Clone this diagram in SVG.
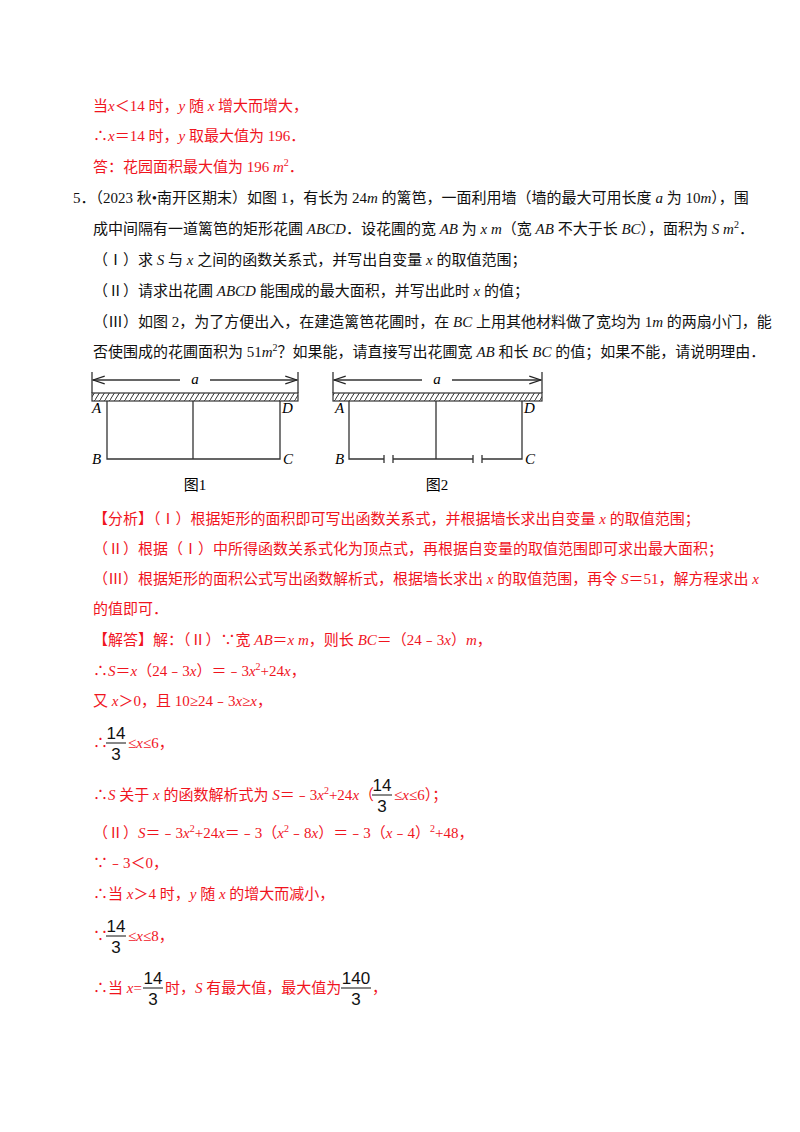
<svg xmlns="http://www.w3.org/2000/svg" width="800" height="1132" viewBox="0 0 800 1132">
<defs>
<pattern id="hatch" width="5" height="8" patternUnits="userSpaceOnUse"><line x1="0" y1="8" x2="5" y2="0" stroke="#333" stroke-width="1"/></pattern>
<marker id="arr" markerWidth="10" markerHeight="8" refX="9" refY="4" orient="auto-start-reverse"><path d="M0,1 L9,4 L0,7" fill="none" stroke="#222" stroke-width="1"/></marker>
</defs>
<style>
text{font-family:"Liberation Serif","Noto Sans CJK SC",serif;font-size:15px}
.r{fill:#f0141e}.k{fill:#111}
.i{font-style:italic}
.ln{stroke:#333;stroke-width:1.3;fill:none}
.fb{stroke:#111;stroke-width:1}
.f text{font-family:"Liberation Sans","Noto Sans CJK SC",sans-serif;font-size:17px}
</style>
<rect width="800" height="1132" fill="#fff"/>
<g class="r">
<text x="93" y="111">当<tspan class="i">x</tspan>＜14 时，<tspan class="i">y</tspan> 随 <tspan class="i">x</tspan> 增大而增大，</text>
<text x="93" y="141">∴<tspan class="i">x</tspan>＝14 时，<tspan class="i">y</tspan> 取最大值为 196．</text>
<text x="93" y="172">答：花园面积最大值为 196 <tspan class="i">m</tspan><tspan dy="-6" font-size="10">2</tspan><tspan dy="6">．</tspan></text>
</g>
<g class="k">
<text x="73" y="203">5．（2023 秋•南开区期末）如图 1，有长为 24<tspan class="i">m</tspan> 的篱笆，一面利用墙（墙的最大可用长度 <tspan class="i">a</tspan> 为 10<tspan class="i">m</tspan>），围</text>
<text x="93" y="234">成中间隔有一道篱笆的矩形花圃 <tspan class="i">ABCD</tspan>．设花圃的宽 <tspan class="i">AB</tspan> 为 <tspan class="i">x m</tspan>（宽 <tspan class="i">AB</tspan> 不大于长 <tspan class="i">BC</tspan>），面积为 <tspan class="i">S m</tspan><tspan dy="-6" font-size="10">2</tspan><tspan dy="6">．</tspan></text>
<text x="93" y="265">（Ⅰ）求 <tspan class="i">S</tspan> 与 <tspan class="i">x</tspan> 之间的函数关系式，并写出自变量 <tspan class="i">x</tspan> 的取值范围；</text>
<text x="93" y="296">（Ⅱ）请求出花圃 <tspan class="i">ABCD</tspan> 能围成的最大面积，并写出此时 <tspan class="i">x</tspan> 的值；</text>
<text x="93" y="327">（Ⅲ）如图 2，为了方便出入，在建造篱笆花圃时，在 <tspan class="i">BC</tspan> 上用其他材料做了宽均为 1<tspan class="i">m</tspan> 的两扇小门，能</text>
<text x="93" y="357">否使围成的花圃面积为 51<tspan class="i">m</tspan><tspan dy="-6" font-size="10">2</tspan><tspan dy="6">？如果能，请直接写出花圃宽 </tspan><tspan class="i">AB</tspan> 和长 <tspan class="i">BC</tspan> 的值；如果不能，请说明理由．</text>
</g>
<g id="fig1">
<line class="ln" x1="92" y1="372" x2="92" y2="393"/><line class="ln" x1="298" y1="372" x2="298" y2="393"/>
<line class="ln" x1="93" y1="380" x2="180" y2="380" marker-start="url(#arr)"/><line class="ln" x1="210" y1="380" x2="297" y2="380" marker-end="url(#arr)"/>
<text x="195" y="384" text-anchor="middle" class="i">a</text>
<rect x="92" y="393" width="206" height="8" fill="url(#hatch)" stroke="#333" stroke-width="1.2"/>
<path class="ln" d="M107,401 V459 H280 V401 M193,401 V459"/>
<text x="92" y="413" class="i">A</text><text x="282" y="413" class="i">D</text>
<text x="92" y="464" class="i">B</text><text x="283" y="464" class="i">C</text>
<text x="195" y="490" text-anchor="middle">图1</text>
</g>
<g id="fig2">
<line class="ln" x1="333" y1="372" x2="333" y2="393"/><line class="ln" x1="542" y1="372" x2="542" y2="393"/>
<line class="ln" x1="334" y1="380" x2="422" y2="380" marker-start="url(#arr)"/><line class="ln" x1="452" y1="380" x2="541" y2="380" marker-end="url(#arr)"/>
<text x="437" y="384" text-anchor="middle" class="i">a</text>
<rect x="333" y="393" width="209" height="8" fill="url(#hatch)" stroke="#333" stroke-width="1.2"/>
<path class="ln" d="M349,401 V459 H384 M384,455 V463 M393,455 V463 M393,459 H473 M473,455 V463 M482,455 V463 M482,459 H522 V401 M436,401 V459"/>
<text x="335" y="413" class="i">A</text><text x="524" y="413" class="i">D</text>
<text x="335" y="464" class="i">B</text><text x="525" y="464" class="i">C</text>
<text x="437" y="490" text-anchor="middle">图2</text>
</g>
<g class="r">
<text x="93" y="524">【分析】（Ⅰ）根据矩形的面积即可写出函数关系式，并根据墙长求出自变量 <tspan class="i">x</tspan> 的取值范围；</text>
<text x="93" y="554">（Ⅱ）根据（Ⅰ）中所得函数关系式化为顶点式，再根据自变量的取值范围即可求出最大面积；</text>
<text x="93" y="584">（Ⅲ）根据矩形的面积公式写出函数解析式，根据墙长求出 <tspan class="i">x</tspan> 的取值范围，再令 <tspan class="i">S</tspan>＝51，解方程求出 <tspan class="i">x</tspan></text>
<text x="93" y="614">的值即可．</text>
<text x="93" y="645">【解答】解：（Ⅱ）∵宽 <tspan class="i">AB</tspan>＝<tspan class="i">x m</tspan>，则长 <tspan class="i">BC</tspan>＝（24﹣3<tspan class="i">x</tspan>）<tspan class="i">m</tspan>，</text>
<text x="93" y="676">∴<tspan class="i">S</tspan>＝<tspan class="i">x</tspan>（24﹣3<tspan class="i">x</tspan>）＝﹣3<tspan class="i">x</tspan><tspan dy="-6" font-size="10">2</tspan><tspan dy="6">+24</tspan><tspan class="i">x</tspan>，</text>
<text x="93" y="706">又 <tspan class="i">x</tspan>＞0，且 10≥24﹣3<tspan class="i">x</tspan>≥<tspan class="i">x</tspan>，</text>
<text x="93" y="748">∴</text><text x="128" y="748">≤<tspan class="i">x</tspan>≤6，</text>
<text x="93" y="800">∴<tspan class="i">S</tspan> 关于 <tspan class="i">x</tspan> 的函数解析式为 <tspan class="i">S</tspan>＝﹣3<tspan class="i">x</tspan><tspan dy="-6" font-size="10">2</tspan><tspan dy="6">+24</tspan><tspan class="i">x</tspan>（</text><text x="394" y="800">≤<tspan class="i">x</tspan>≤6）；</text>
<text x="93" y="838">（Ⅱ）<tspan class="i">S</tspan>＝﹣3<tspan class="i">x</tspan><tspan dy="-6" font-size="10">2</tspan><tspan dy="6">+24</tspan><tspan class="i">x</tspan>＝﹣3（<tspan class="i">x</tspan><tspan dy="-6" font-size="10">2</tspan><tspan dy="6">﹣8</tspan><tspan class="i">x</tspan>）＝﹣3（<tspan class="i">x</tspan>﹣4）<tspan dy="-6" font-size="10">2</tspan><tspan dy="6">+48，</tspan></text>
<text x="93" y="868">∵﹣3＜0，</text>
<text x="93" y="899">∴当 <tspan class="i">x</tspan>＞4 时，<tspan class="i">y</tspan> 随 <tspan class="i">x</tspan> 的增大而减小，</text>
<text x="93" y="941">∵</text><text x="128" y="941">≤<tspan class="i">x</tspan>≤8，</text>
<text x="93" y="993">∴当 <tspan class="i">x</tspan>=</text><text x="165" y="993">时，<tspan class="i">S</tspan> 有最大值，最大值为</text><text x="372" y="993">，</text>
</g>
<g class="k f" text-anchor="middle">
<text x="116" y="739">14</text><text x="116" y="760">3</text><line class="fb" x1="106" y1="743" x2="126" y2="743"/>
<text x="382" y="791">14</text><text x="382" y="812">3</text><line class="fb" x1="372" y1="795" x2="392" y2="795"/>
<text x="116" y="932">14</text><text x="116" y="953">3</text><line class="fb" x1="106" y1="936" x2="126" y2="936"/>
<text x="153" y="984">14</text><text x="153" y="1005">3</text><line class="fb" x1="143" y1="988" x2="163" y2="988"/>
<text x="356" y="984">140</text><text x="356" y="1005">3</text><line class="fb" x1="341" y1="988" x2="371" y2="988"/>
</g>
</svg>
